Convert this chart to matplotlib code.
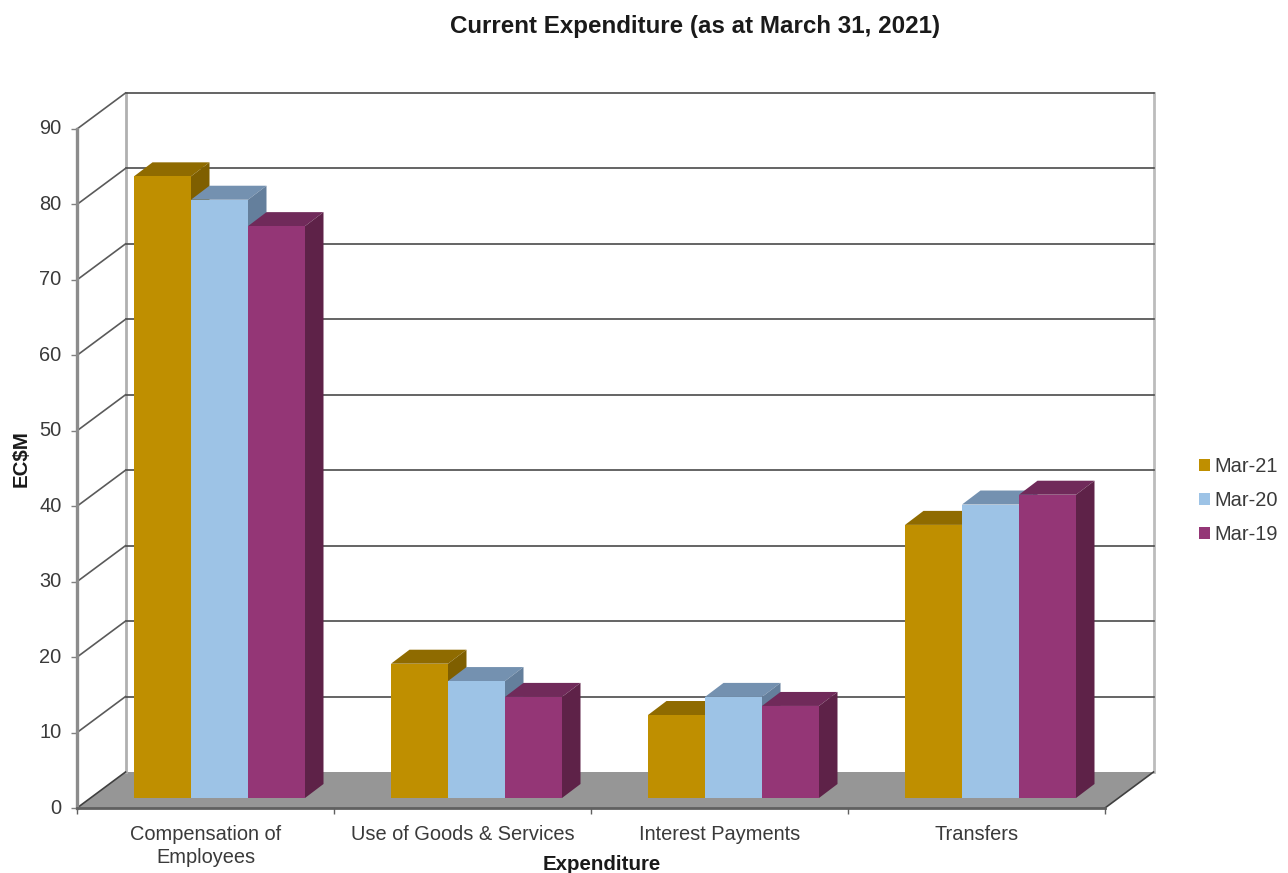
#!/usr/bin/env python

import numpy as np
import matplotlib
matplotlib.use('Agg')
import matplotlib.pyplot as plt
from matplotlib.transforms import ScaledTranslation

matplotlib.rc('font', family=['Liberation Sans', 'DejaVu Sans'], size=12)

categories = ['Compensation of\nEmployees', 'Use of Goods & Services',
              'Interest Payments', 'Transfers']
series_names = ['Mar-21', 'Mar-20', 'Mar-19']
mar21 = [82.4, 17.8, 11.0, 36.2]
mar20 = [79.3, 15.5, 13.4, 38.9]
mar19 = [75.8, 13.4, 12.2, 40.2]
yticks = np.arange(0, 100, 10)

front_colors = ['#bf8f00', '#9dc3e6', '#943676']
top_colors = ['#8f6b00', '#7491b0', '#702a5a']
side_colors = ['#7f5f00', '#647f9c', '#5e2248']
text_color = '#3a3a3a'

W, H = 1288, 873
fig = plt.figure(figsize=(W / 100, H / 100), dpi=100)
ax = fig.add_axes([77 / W, 1 - 808 / H, (1105 - 77) / W, (808 - 129) / H])
ax.set_xlim(0, 4)
ax.set_ylim(0, 90)

# Depth of the box and of the bars, in data units
px_x = 4 / (1105 - 77.)
px_y = 90 / (808 - 129.)
wall_dx, wall_dy = 48.5 * px_x, 36 * px_y
bar_dx, bar_dy = 18.5 * px_x, 14 * px_y
gap_dx, gap_dy = 14 * px_x, 10 * px_y
width = 57 * px_x

# Floor and walls
ax.fill([0, 4, 4 + wall_dx, wall_dx], [0, 0, wall_dy, wall_dy],
        color='#969696', lw=0, zorder=1, clip_on=False)
ax.plot([wall_dx, wall_dx], [wall_dy, 90 + wall_dy], color='#b0b0b0', lw=2.0,
        zorder=2, clip_on=False)
ax.plot([4 + wall_dx, 4 + wall_dx], [wall_dy, 90 + wall_dy], color='#bcbcbc',
        lw=2.0, zorder=2, clip_on=False)
ax.plot([4, 4 + wall_dx], [0, wall_dy], color='#404040', lw=1.2, zorder=2,
        clip_on=False)
for t in yticks[1:]:
    ax.plot([wall_dx, 4 + wall_dx], [t + wall_dy, t + wall_dy],
            color='#4a4a4a', lw=1.2, zorder=2, clip_on=False)
    ax.plot([0, wall_dx], [t, t + wall_dy], color='#5a5a5a', lw=1.2, zorder=2,
            clip_on=False)
ax.plot([0, wall_dx], [0, wall_dy], color='#404040', lw=1.2, zorder=2,
        clip_on=False)

# Bars, drawn left to right so each one covers the side of the previous
series = [mar21, mar20, mar19]
for i in range(len(categories)):
    for j, values in enumerate(series):
        v = values[i]
        x0 = i + 0.5 - 1.5 * width + gap_dx + j * width
        z = 3 + i + j * 0.1
        ax.bar(x0, v, width, bottom=gap_dy, align='edge', color=front_colors[j],
               lw=0, zorder=z + 0.02, clip_on=False,
               label=series_names[j] if i == 0 else None)
        top = v + gap_dy
        ax.fill([x0, x0 + width, x0 + width + bar_dx, x0 + bar_dx],
                [top, top, top + bar_dy, top + bar_dy],
                color=top_colors[j], lw=0, zorder=z, clip_on=False)
        xr = x0 + width
        ax.fill([xr, xr + bar_dx, xr + bar_dx, xr],
                [gap_dy, gap_dy + bar_dy, top + bar_dy, top],
                color=side_colors[j], lw=0, zorder=z + 0.01, clip_on=False)

# Axes
for name in ['top', 'right']:
    ax.spines[name].set_visible(False)
ax.patch.set_visible(False)
ax.spines['left'].set_color('#8c8c8c')
ax.spines['left'].set_linewidth(2.4)
ax.spines['bottom'].set_color('#606060')
ax.spines['bottom'].set_linewidth(2.0)
ax.set_yticks(yticks)
ax.set_xticks(np.arange(5))
ax.set_xticklabels([])
ax.set_xticks(np.arange(4) + 0.5, minor=True)
ax.set_xticklabels(categories, minor=True, linespacing=1.3)
ax.tick_params(axis='y', length=4, width=1.0, color='#808080', pad=7,
               labelsize=14.4, labelcolor=text_color)
ax.tick_params(axis='x', which='major', length=4, width=1.0, color='#606060')
ax.tick_params(axis='x', which='minor', length=0, pad=12, labelsize=14.4,
               labelcolor=text_color)

# y tick labels sit a little above their ticks
up = ScaledTranslation(0, 2 / 100., fig.dpi_scale_trans)
for lbl in ax.get_yticklabels():
    lbl.set_transform(lbl.get_transform() + up)

fig.text(695 / W, 1 - 27 / H, 'Current Expenditure (as at March 31, 2021)',
         ha='center', va='center', fontsize=17.4, fontweight='bold',
         color='#1a1a1a')
fig.text(21.5 / W, 1 - 458.5 / H, 'EC$M', rotation=90, ha='center', va='center',
         fontsize=14.8, fontweight='bold', color='#1a1a1a')
fig.text(602 / W, 1 - 865 / H, 'Expenditure', ha='center', va='center',
         fontsize=14.8, fontweight='bold', color='#1a1a1a')

fig.legend(loc='center left', bbox_to_anchor=(1193 / W, 1 - 500.5 / H),
           frameon=False, fontsize=14.4, labelcolor=text_color,
           handlelength=0.55, handleheight=0.55, handletextpad=0.2,
           labelspacing=0.745, borderpad=0.3, borderaxespad=0)

fig.savefig('out.png', dpi=100)
